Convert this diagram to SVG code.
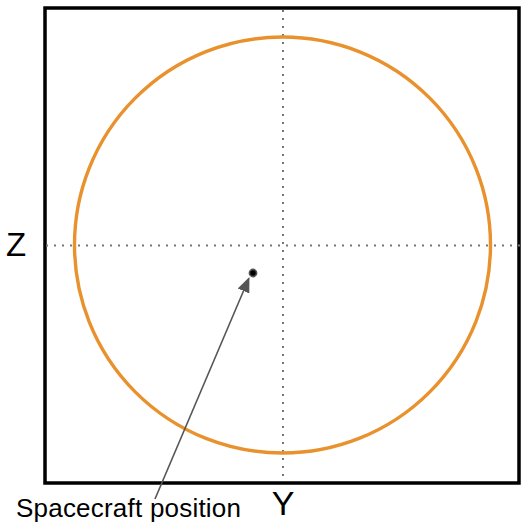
<svg xmlns="http://www.w3.org/2000/svg" width="530" height="525" viewBox="0 0 530 525">
<defs>
<style>
.lbl{font-family:"Liberation Sans",Arial,sans-serif;fill:#000}
.axis{stroke:#777;stroke-width:2;stroke-dasharray:2 6;fill:none}
</style>
<marker id="ah" viewBox="0 0 10 10" refX="9" refY="5" markerWidth="15" markerHeight="15" markerUnits="userSpaceOnUse" orient="auto">
<path d="M0,0.8 L10,5 L0,9.2 z" fill="#555"/>
</marker>
</defs>
<rect width="530" height="525" fill="#fff"/>
<g id="frame">
<rect x="45" y="8" width="474" height="475" fill="none" stroke="#000" stroke-width="3.5"/>
</g>
<g id="axes">
<line class="axis" x1="46" y1="245.5" x2="520" y2="245.5"/>
<line class="axis" x1="283" y1="10" x2="283" y2="482"/>
</g>
<g id="circle">
<circle cx="282.5" cy="245" r="208" fill="none" stroke="#E8912D" stroke-width="3.4"/>
</g>
<g id="spacecraft">
<circle cx="253" cy="273" r="3.6" fill="#000" stroke="#555" stroke-width="1.6"/>
</g>
<g id="connectors">
<line x1="155" y1="499" x2="248.8" y2="278.5" stroke="#555" stroke-width="1.6" marker-end="url(#ah)"/>
</g>
<g id="labels">
<text class="lbl" x="6" y="256" font-size="33">Z</text>
<text class="lbl" x="283" y="515" font-size="34" text-anchor="middle">Y</text>
<text class="lbl" x="16" y="517" font-size="26" textLength="225">Spacecraft position</text>
</g>
</svg>
